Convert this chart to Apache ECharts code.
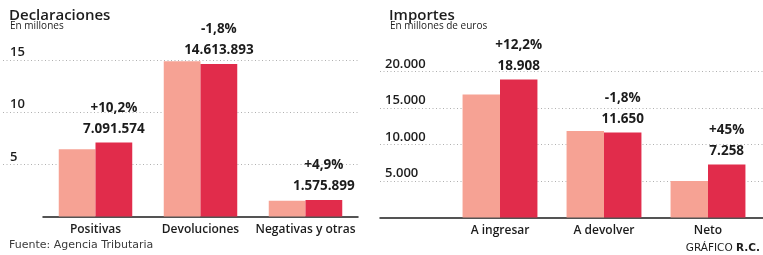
<!DOCTYPE html>
<html><head><meta charset="utf-8">
<script src="https://cdn.jsdelivr.net/npm/echarts@6/dist/echarts.min.js"></script>
<style>html,body{margin:0;padding:0;background:#fff}#c{width:763px;height:255px}</style>
</head><body><div id="c"></div>
<script>
// ---- data ----
const declCategories = ['Positivas', 'Devoluciones', 'Negativas y otras'];
const declPrev = [6435000, 14886000, 1502000];
const declCurr = [7091574, 14613893, 1575899];
const declPct = ['+10,2%', '-1,8%', '+4,9%'];
const declTickValues = [5000000, 10000000, 15000000];
const declTickLabels = ['5', '10', '15'];

const impCategories = ['A ingresar', 'A devolver', 'Neto'];
const impPrev = [16852, 11863, 5006];
const impCurr = [18908, 11650, 7258];
const impPct = ['+12,2%', '-1,8%', '+45%'];
const impTickValues = [5000, 10000, 15000, 20000];
const impTickLabels = ['5.000', '10.000', '15.000', '20.000'];

// ---- style ----
const FONT = '"Open Sans", "Noto Sans", sans-serif';
const LIGHT = '#F6A294';
const DARK = '#E12C4B';
const INK = '#1c1c1c';

function fmt(n) { return String(n).replace(/\B(?=(\d{3})+(?!\d))/g, '.'); }
function tickFmt(vals, labels) {
  return function (v) { const i = vals.indexOf(v); return i >= 0 ? labels[i] : ''; };
}

const chart = echarts.init(document.getElementById('c'), null, { renderer: 'canvas' });

const splitLine = { show: true, showMinLine: false, lineStyle: { color: '#b0b0b0', type: [1, 2.5], width: 1 } };
const yLabel = (vals, labels, margin) => ({
  inside: true, margin: margin, verticalAlign: 'bottom', align: 'left', padding: [0, 0, 1, 0],
  fontFamily: FONT, fontSize: 13, fontWeight: 600, color: INK,
  formatter: tickFmt(vals, labels), showMinLabel: false
});
const catLabel = { fontFamily: FONT, fontSize: 12, fontWeight: 600, color: INK, margin: 7, interval: 0 };

function valueLabel(pcts) {
  const st = { fontFamily: FONT, fontSize: 13.5, fontWeight: 700, color: INK, lineHeight: 21, align: 'center' };
  return {
    show: true, position: 'top', distance: 3,
    fontFamily: FONT, fontSize: 13.5, fontWeight: 700,
    formatter: p => '{p|' + pcts[p.dataIndex] + '}\n{v|' + fmt(p.value) + '}',
    rich: { p: st, v: st }
  };
}

const declMax = declTickValues[declTickValues.length - 1];
const impMax = impTickValues[impTickValues.length - 1];

chart.setOption({
  animation: false,
  textStyle: { fontFamily: FONT },
  grid: [
    { left: 3, width: 355, top: 60, bottom: 38.5 },      // left: gridlines
    { left: 43, width: 315, top: 60, bottom: 38.5 },     // left: bars
    { left: 380, width: 383, top: 71.5, bottom: 37.5 },  // right: gridlines
    { left: 448, width: 312, top: 71.5, bottom: 37.5 }   // right: bars
  ],
  xAxis: [
    { gridIndex: 0, type: 'category', data: [''], show: false },
    { gridIndex: 1, type: 'category', data: declCategories,
      axisLine: { show: true, lineStyle: { color: INK, width: 1.5 } }, axisTick: { show: false }, axisLabel: catLabel },
    { gridIndex: 2, type: 'category', data: [''],
      axisLine: { show: true, lineStyle: { color: INK, width: 1.5 } }, axisTick: { show: false }, axisLabel: { show: false } },
    { gridIndex: 3, type: 'category', data: impCategories,
      axisLine: { show: false }, axisTick: { show: false }, axisLabel: catLabel }
  ],
  yAxis: [
    { gridIndex: 0, type: 'value', min: 0, max: declMax, interval: declTickValues[0],
      axisLine: { show: false }, axisTick: { show: false }, splitLine: splitLine, axisLabel: yLabel(declTickValues, declTickLabels, 7) },
    { gridIndex: 1, type: 'value', min: 0, max: declMax, interval: declTickValues[0], show: false, splitLine: { show: false } },
    { gridIndex: 2, type: 'value', min: 0, max: impMax, interval: impTickValues[0],
      axisLine: { show: false }, axisTick: { show: false }, splitLine: splitLine, axisLabel: yLabel(impTickValues, impTickLabels, 5) },
    { gridIndex: 3, type: 'value', min: 0, max: impMax, interval: impTickValues[0], show: false, splitLine: { show: false } }
  ],
  series: [
    { type: 'bar', xAxisIndex: 1, yAxisIndex: 1, data: declPrev, itemStyle: { color: LIGHT }, barGap: '0%', barCategoryGap: '30%', z: 3 },
    { type: 'bar', xAxisIndex: 1, yAxisIndex: 1, data: declCurr, itemStyle: { color: DARK }, barGap: '0%', barCategoryGap: '30%', z: 3,
      label: valueLabel(declPct) },
    { type: 'bar', xAxisIndex: 3, yAxisIndex: 3, data: impPrev, itemStyle: { color: LIGHT }, barGap: '0%', barCategoryGap: '28%', z: 3 },
    { type: 'bar', xAxisIndex: 3, yAxisIndex: 3, data: impCurr, itemStyle: { color: DARK }, barGap: '0%', barCategoryGap: '28%', z: 3,
      label: valueLabel(impPct) }
  ],
  graphic: [
    { type: 'text', left: 9, top: 8, style: { text: 'Declaraciones', font: '600 15px ' + FONT, fill: INK } },
    { type: 'text', left: 10, top: 21, style: { text: 'En millones', font: '400 10px ' + FONT, fill: INK } },
    { type: 'text', left: 389, top: 8, style: { text: 'Importes', font: '600 15px ' + FONT, fill: INK } },
    { type: 'text', left: 390, top: 21, style: { text: 'En millones de euros', font: '400 10px ' + FONT, fill: INK } },
    { type: 'text', left: 9, top: 240, style: { text: 'Fuente: Agencia Tributaria', font: '400 11px "DejaVu Sans", sans-serif', fill: '#3a3a3a' } },
    { type: 'text', right: 3, top: 243, style: { text: '{a|GRÁFICO }{b|R.C.}', rich: {
        a: { font: '400 10.5px "DejaVu Sans", sans-serif', fill: INK }, b: { font: '700 10.5px "DejaVu Sans", sans-serif', fill: INK } } } }
  ]
});
</script></body></html>
